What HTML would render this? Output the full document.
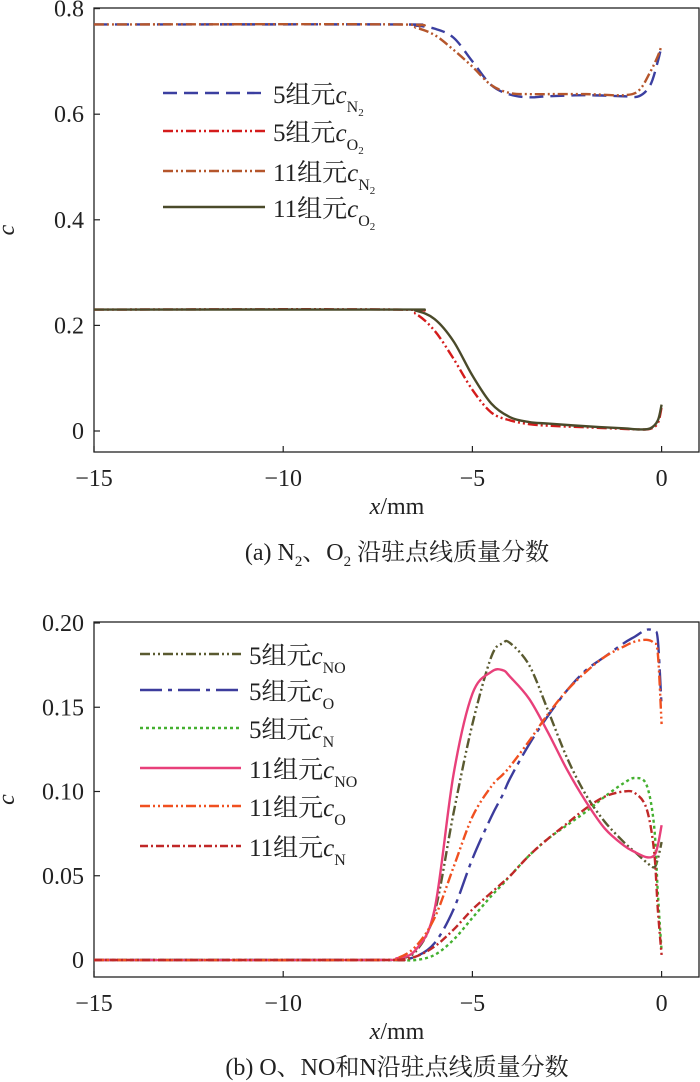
<!DOCTYPE html>
<html><head><meta charset="utf-8"><style>
html,body{margin:0;padding:0;background:#fff;width:700px;height:1082px;overflow:hidden}
svg{display:block}
text{font-family:"Liberation Serif","Noto Serif CJK SC","Noto Sans CJK SC",serif;fill:#222}
</style></head><body>
<svg id="svg" width="700" height="1082"></svg>
<script>
// Chart (a)
const xA = [-15,-7,-6.5,-6,-5.5,-5,-4.5,-4,-3.5,-3,-2,-1,-0.6,-0.3,-0.1,0];
const a5N2 = [.77,.77,.768,.762,.745,.7,.655,.637,.632,.634,.636,.634,.634,.655,.7,.73];
const a11N2 = [.77,.77,.764,.75,.722,.69,.655,.64,.638,.638,.638,.636,.645,.68,.71,.73];
const a5O2 = [.23,.23,.222,.19,.137,.078,.035,.02,.013,.01,.007,.004,.003,.004,.015,.045];
const a11O2 = [.23,.23,.228,.212,.17,.105,.052,.026,.017,.014,.009,.005,.003,.005,.02,.05];
const yTicksA = [0,0.2,0.4,0.6,0.8];
const yTickLabelsA = ["0","0.2","0.4","0.6","0.8"];
// Chart (b)
const xB = [-15,-7.5,-7,-6.5,-6,-5.5,-5,-4.5,-4.2,-4,-3.5,-3,-2.5,-2,-1.5,-1,-0.7,-0.4,-0.2,-0.1,0];
const b5NO = [0,0,0.001,0.005,0.028,0.087,0.14,0.18,0.188,0.188,0.175,0.148,0.12,0.098,0.082,0.07,0.064,0.058,0.055,0.06,0.07];
const b11NO = [0,0,0.001,0.006,0.03,0.11,0.158,0.171,0.172,0.168,0.155,0.135,0.113,0.094,0.078,0.068,0.064,0.061,0.062,0.068,0.08];
const b5O = [0,0,0,0.002,0.01,0.03,0.06,0.085,0.098,0.108,0.128,0.145,0.16,0.172,0.18,0.188,0.192,0.196,0.195,0.19,0.15];
const b11O = [0,0,0.001,0.008,0.025,0.055,0.085,0.103,0.11,0.115,0.13,0.146,0.16,0.171,0.18,0.186,0.189,0.19,0.188,0.182,0.14];
const b5N = [0,0,0,0,0.003,0.012,0.025,0.038,0.045,0.05,0.062,0.072,0.08,0.088,0.097,0.105,0.108,0.104,0.08,0.04,0.005];
const b11N = [0,0,0,0.002,0.008,0.018,0.03,0.04,0.046,0.05,0.062,0.072,0.081,0.09,0.097,0.1,0.099,0.09,0.065,0.03,0.003];
const yTicksB = [0,0.05,0.10,0.15,0.20];
const yTickLabelsB = ["0","0.05","0.10","0.15","0.20"];
const xTicks = [-15,-10,-5,0];
const xTickLabels = ["\u221215","\u221210","\u22125","0"];

const NS="http://www.w3.org/2000/svg";
const svg=document.getElementById('svg');
function mk(tag,at,parent){const e=document.createElementNS(NS,tag);for(const k in at)e.setAttribute(k,at[k]);(parent||svg).appendChild(e);return e;}
function smooth(pts){let d=`M${pts[0][0]},${pts[0][1]}`;for(let i=0;i<pts.length-1;i++){const p0=pts[Math.max(i-1,0)],p1=pts[i],p2=pts[i+1],p3=pts[Math.min(i+2,pts.length-1)];const t=1/6;d+=` C${p1[0]+(p2[0]-p0[0])*t},${p1[1]+(p2[1]-p0[1])*t} ${p2[0]-(p3[0]-p1[0])*t},${p2[1]-(p3[1]-p1[1])*t} ${p2[0]},${p2[1]}`;}return d;}

function chart(cfg){
  const g=mk('g',{});
  
  
  const L=94,R=699,x0=94,x1=661.6;
  const sx=v=>x0+(v+15)/15*(x1-x0);
  const sy=v=>cfg.y0+(v/cfg.ymax)*(cfg.ytop-cfg.y0);
  const box=mk('rect',{x:L,y:cfg.boxTop,width:R-L,height:cfg.boxBot-cfg.boxTop,fill:'none',stroke:'#222','stroke-width':1.3},g);
  
  
  cfg.yTicks.forEach((t,i)=>{
    const y=sy(t);
    mk('line',{x1:L,x2:L+6,y1:y,y2:y,stroke:'#222','stroke-width':1.2},g);
    const tx=mk('text',{x:L-10,y:y+8,'font-size':24,'text-anchor':'end'},g);
    tx.textContent=cfg.yLabels[i];
    
    
  });
  xTicks.forEach((t,i)=>{
    const x=sx(t);
    mk('line',{x1:x,x2:x,y1:cfg.boxBot,y2:cfg.boxBot-6,stroke:'#222','stroke-width':1.2},g);
    const tx=mk('text',{x:x,y:cfg.boxBot+34,'font-size':24,'text-anchor':'middle'},g);
    tx.textContent=xTickLabels[i];
    
    
  });
  const yt=mk('text',{x:0,y:0,'font-size':24,'font-style':'italic','text-anchor':'middle',transform:`translate(14,${(cfg.boxTop+cfg.boxBot)/2}) rotate(-90)`},g);
  yt.textContent='c';
  
  
  const xt=mk('text',{x:397,y:cfg.boxBot+62,'font-size':24,'text-anchor':'middle'},g);
  xt.innerHTML='<tspan font-style="italic">x</tspan>/mm';
  
  
  const cap=mk('text',{x:397,y:cfg.capY,'font-size':24,'text-anchor':'middle'},g);
  cap.innerHTML=cfg.caption;
  
  
  cfg.series.forEach((s,k)=>{
    const pts=cfg.xs.map((v,i)=>[sx(v),sy(s.data[i])]);
    const p=mk('path',{d:smooth(pts),fill:'none',stroke:s.color,'stroke-width':2.4,'stroke-dasharray':s.dash||'none'},g);
    
    
    const ly=cfg.legY[k];
    const le=mk('g',{},g);
    
    
    mk('line',{x1:cfg.legX1,x2:cfg.legX2,y1:ly,y2:ly,stroke:s.color,'stroke-width':2.4,'stroke-dasharray':s.dash||'none'},le);
    const t=mk('text',{x:cfg.legX2+8,y:ly+10,'font-size':25},le);
    t.innerHTML=s.label;
  });
}
const sub=(s)=>`<tspan font-style="italic">c</tspan><tspan font-size="16" dy="9">${s}</tspan>`;
const sub2=(s)=>`<tspan font-style="italic">c</tspan><tspan font-size="16" dy="9">${s}</tspan><tspan font-size="11" dy="4">2</tspan>`;
const dd='10,3,2,3,2,3', dash='14,7', dp='22,6,4,6', dot='3,3';
chart({name:'chart-a',y0:431,ytop:8.6,ymax:0.8,boxTop:8,boxBot:452,capY:560,yTicks:yTicksA,yLabels:yTickLabelsA,xs:xA,
  caption:'(a) N<tspan font-size="15" dy="6">2</tspan><tspan dy="-6">、O</tspan><tspan font-size="15" dy="6">2</tspan><tspan dy="-6"> 沿驻点线质量分数</tspan>',
  legX1:163,legX2:265,legY:[93,131,171,207],
  series:[
   {id:'5-comp-n2',data:a5N2,color:'#3b3fa0',dash:dash,label:'5组元'+sub2('N')},
   {id:'5-comp-o2',data:a5O2,color:'#d41c1c',dash:dd,label:'5组元'+sub2('O')},
   {id:'11-comp-n2',data:a11N2,color:'#b5562c',dash:dd,label:'11组元'+sub2('N')},
   {id:'11-comp-o2',data:a11O2,color:'#4a4a2a',dash:null,label:'11组元'+sub2('O')}]});
chart({name:'chart-b',y0:960,ytop:623,ymax:0.2,boxTop:622,boxBot:977,capY:1075,yTicks:yTicksB,yLabels:yTickLabelsB,xs:xB,
  caption:'(b) O、NO和N沿驻点线质量分数',
  legX1:140,legX2:241,legY:[654,690,728,768,806,846],
  series:[
   {id:'5-comp-no',data:b5NO,color:'#5a5a30',dash:dd,label:'5组元'+sub('NO')},
   {id:'5-comp-o',data:b5O,color:'#3c3c9c',dash:dp,label:'5组元'+sub('O')},
   {id:'5-comp-n',data:b5N,color:'#44b030',dash:dot,label:'5组元'+sub('N')},
   {id:'11-comp-no',data:b11NO,color:'#e8407a',dash:null,label:'11组元'+sub('NO')},
   {id:'11-comp-o',data:b11O,color:'#f05020',dash:dd,label:'11组元'+sub('O')},
   {id:'11-comp-n',data:b11N,color:'#c02828',dash:'8,3,2,3',label:'11组元'+sub('N')}]});
</script>
</body></html>
